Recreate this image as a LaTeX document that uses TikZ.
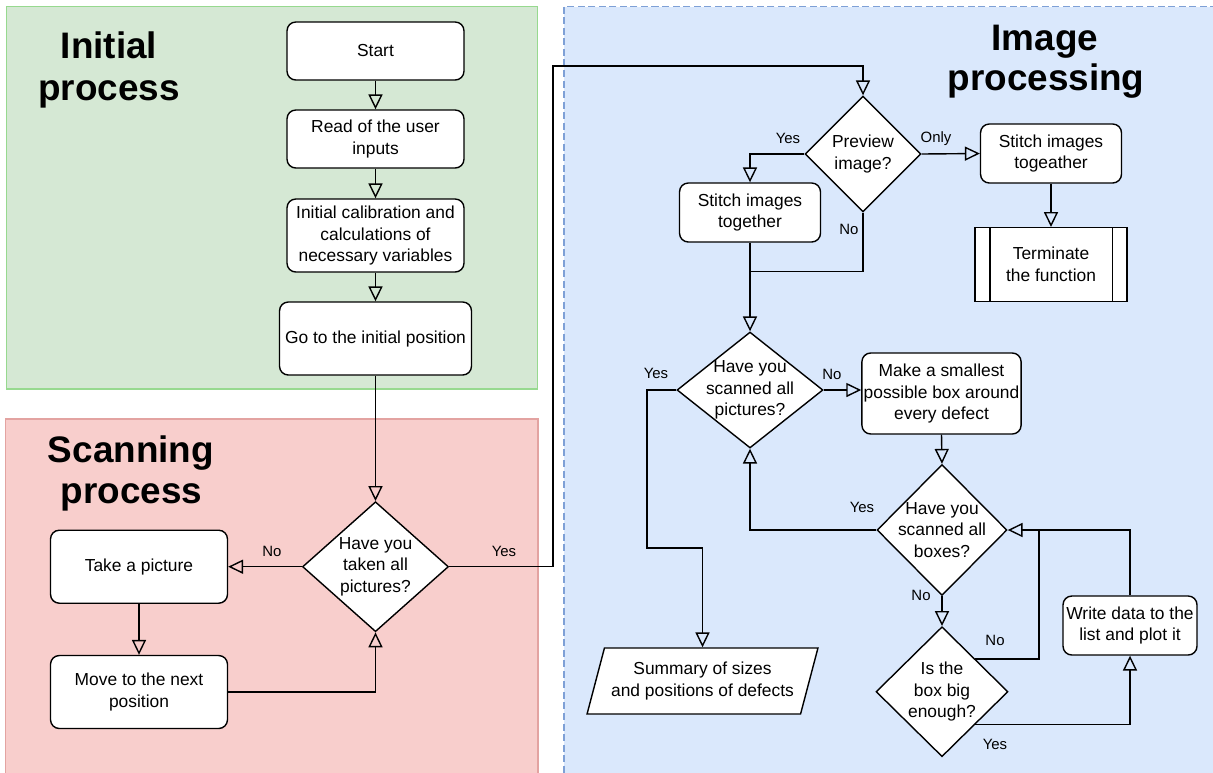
\documentclass[tikz,border=0pt]{standalone}
\usepackage{fontspec}
\setmainfont{Liberation Sans}
\usetikzlibrary{arrows.meta,shapes.geometric}
\definecolor{grfill}{HTML}{D5E8D4}
\definecolor{grline}{HTML}{97D98F}
\definecolor{rdfill}{HTML}{F8CECC}
\definecolor{rdline}{HTML}{E3A3A1}
\definecolor{blfill}{HTML}{DAE8FC}
\definecolor{blline}{HTML}{7EA0D6}
\begin{document}
\begin{tikzpicture}[x=0.02cm,y=-0.02cm,
  box/.style={draw, fill=white, rounded corners=5pt, line width=0.8pt, align=center,
    font=\fontsize{9.9}{12.5}\selectfont, inner sep=1pt},
  dec/.style={draw, fill=white, diamond, line width=0.8pt, inner sep=0pt},
  dtext/.style={align=center, font=\fontsize{9.9}{12.2}\selectfont, inner sep=0pt},
  lbl/.style={font=\fontsize{8.5}{10}\selectfont, inner sep=0pt},
  ttl/.style={font=\fontsize{21}{24}\selectfont\bfseries, anchor=base, inner sep=0pt},
  flow/.style={line width=0.8pt, -{Triangle[open,length=8.5pt,width=8pt]}},
  plain/.style={line width=0.8pt}]
\useasboundingbox (0,0) rectangle (1213,772);
\begin{scope}
\clip (0,0) rectangle (1213,772);
% regions
\fill[white] (0,0) rectangle (1213,772);
\draw[grline, fill=grfill, line width=0.7pt] (6.4,6.7) rectangle (537.5,389);
\draw[rdline, fill=rdfill, line width=0.7pt] (5.5,419) rectangle (538,790);
\draw[blline, fill=blfill, line width=0.7pt, dash pattern=on 4pt off 2pt] (564,6.7) rectangle (1230,790);
\end{scope}

% titles
\node[ttl] (t1a) at (109,58.3) {Initial};
\node[ttl] (t1b) at (109,100) {process};
\node[ttl] (t2a) at (131,462) {Scanning};
\node[ttl] (t2b) at (131.5,503) {process};
\node[ttl] (t3a) at (1045,50) {Image};
\node[ttl] (t3b) at (1046,90.5) {processing};

% initial process
\node[box, minimum width=3.54cm, minimum height=1.16cm] (start) at (375.5,51) {Start};
\node[box, minimum width=3.54cm, minimum height=1.16cm] (read) at (375.5,139) {Read of the user\\inputs};
\node[box, minimum width=3.54cm, minimum height=1.46cm] (calib) at (375.5,235.5) {Initial calibration and\\calculations of\\necessary variables};
\node[box, minimum width=3.84cm, minimum height=1.46cm] (go) at (375.5,338.5) {Go to the initial position};

% scanning
\node[dec, minimum width=2.92cm, minimum height=2.6cm,
  label={[dtext]center:{Have you\\taken all\\pictures?}}] (d1) at (375.5,566.7) {};
\node[box, minimum width=3.54cm, minimum height=1.46cm] (take) at (139,566.7) {Take a picture};
\node[box, minimum width=3.54cm, minimum height=1.46cm] (move) at (139,692) {Move to the next\\position};

% image processing
\node[dec, minimum width=2.32cm, minimum height=2.32cm,
  label={[dtext]center:{Preview\\image?}}] (prev) at (863,154) {};
\node[box, minimum width=2.82cm, minimum height=1.18cm] (stl) at (750,212.5) {Stitch images\\together};
\node[box, minimum width=2.82cm, minimum height=1.18cm] (str) at (1051,153.5) {Stitch images\\togeather};
\node[draw, fill=white, line width=0.8pt, align=center, font=\fontsize{9.9}{12.5}\selectfont,
  minimum width=3.04cm, minimum height=1.48cm] (term) at (1051,264.7) {Terminate\\the function};
\draw[line width=0.8pt] ([xshift=0.31cm]term.north west) -- ([xshift=0.31cm]term.south west);
\draw[line width=0.8pt] ([xshift=-0.31cm]term.north east) -- ([xshift=-0.31cm]term.south east);

\node[dec, minimum width=2.92cm, minimum height=2.32cm,
  label={[dtext]center:{Have you\\scanned all\\pictures?}}] (d2) at (750,390) {};
\node[box, minimum width=3.1cm, minimum height=1.62cm] (make) at (941.5,393.5) {Make a smallest\\possible box around\\every defect};
\node[dec, minimum width=2.6cm, minimum height=2.62cm,
  label={[dtext]center:{Have you\\scanned all\\boxes?}}] (d3) at (942,530) {};
\node[dec, minimum width=2.64cm, minimum height=2.6cm,
  label={[dtext]center:{Is the\\box big\\enough?}}] (d4) at (942,691.7) {};
\node[box, minimum width=2.68cm, minimum height=1.18cm] (write) at (1130,625.5) {Write data to the\\list and plot it};
\node[trapezium, trapezium left angle=67, trapezium right angle=113, trapezium stretches=true,
  draw, fill=white, line width=0.8pt, align=center, font=\fontsize{9.9}{12.5}\selectfont,
  minimum width=4.62cm, minimum height=1.32cm, inner sep=0pt] (sum) at (702.5,681) {Summary of sizes\\and positions of defects};

% coordinates
\coordinate (c1) at (553,66);
\coordinate (c2) at (750,271.7);
\coordinate (c3) at (647,548);
\coordinate (c4) at (1039,530);

% connectors
\draw[flow] (start) -- (read);
\draw[flow] (read) -- (calib);
\draw[flow] (calib) -- (go);
\draw[flow] (go) -- (d1);
\draw[flow] (d1.west) -- (take.east);
\draw[flow] (take) -- (move);
\draw[flow] (move.east) -| (d1.south);
\draw[flow] (d1.east) -| (c1) -| (prev.north);
\draw[flow] (prev.west) -| (stl.north);
\draw[flow] (prev.east) -- (str.west);
\draw[flow] (str) -- (term);
\draw[plain] (prev.south) |- (c2);
\draw[flow] (stl.south) -- (d2.north);
\draw[flow] (d2.east) -- (d2.east -| make.west);
\draw[flow] (d2.west) -| (c3) -| (sum.north);
\draw[flow] (make.south) -- (d3.north);
\draw[flow] (d3.west) -| (d2.south);
\draw[flow] (d3.south) -- (d4.north);
\draw[flow] (d4.north east) -| (c4) -- (d3.east);
\draw[flow] (d4.south east) -| (write.south);
\draw[plain] (write.north) |- (c4);

% edge labels
\node[lbl] (n1) at (272,551.7) {No};
\node[lbl] (y1) at (504,551) {Yes};
\node[lbl] (y2) at (788,138.5) {Yes};
\node[lbl] (o1) at (936,139) {Only};
\node[lbl] (n2) at (849,229.5) {No};
\node[lbl] (y3) at (656,373.7) {Yes};
\node[lbl] (n3) at (832,374) {No};
\node[lbl] (y4) at (862,507) {Yes};
\node[lbl] (n4) at (921,595) {No};
\node[lbl] (n5) at (995,640) {No};
\node[lbl] (y5) at (995,744) {Yes};
\end{tikzpicture}
\end{document}
